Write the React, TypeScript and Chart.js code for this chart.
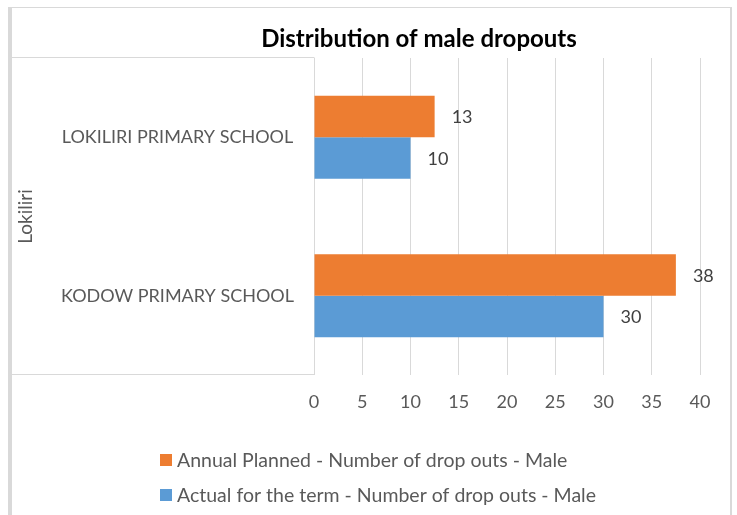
import React, { useEffect, useRef } from "react";
import { Chart, registerables } from "chart.js";

Chart.register(...registerables);

const categories = ["LOKILIRI PRIMARY SCHOOL", "KODOW PRIMARY SCHOOL"];
const groupLabel = "Lokiliri";
const chartTitle = "Distribution of male dropouts";
const seriesNames = [
  "Annual Planned - Number of drop outs - Male",
  "Actual for the term - Number of drop outs - Male",
];
const plannedValues = [12.5, 37.5];
const actualValues = [10, 30];
const seriesColors = ["#ED7D31", "#5B9BD5"];
const xTicks = [0, 5, 10, 15, 20, 25, 30, 35, 40];

const FONT = "Lato, 'Open Sans', sans-serif";
const GRID = "#d9d9d9";
const TEXT = "#595959";

const decorPlugin = {
  id: "decor",
  beforeDraw(chart: any) {
    const ctx = chart.ctx;
    ctx.save();
    ctx.fillStyle = "#ffffff";
    ctx.fillRect(0, 0, chart.width, chart.height);
    ctx.fillStyle = GRID;
    ctx.fillRect(8, 7, 724, 1);
    ctx.fillRect(8, 7, 4, chart.height - 7);
    ctx.fillRect(730, 7, 2, chart.height - 7);
    ctx.restore();
  },
  afterDatasetsDraw(chart: any) {
    const ctx = chart.ctx;
    ctx.save();
    ctx.fillStyle = "#404040";
    ctx.font = `18px ${FONT}`;
    ctx.textAlign = "left";
    ctx.textBaseline = "middle";
    chart.data.datasets.forEach((ds: any, i: number) => {
      const meta = chart.getDatasetMeta(i);
      meta.data.forEach((el: any, j: number) => {
        const v = ds.data[j];
        ctx.fillText(String(Math.round(v)), el.x + 17, el.y + 1);
      });
    });
    ctx.restore();
  },
  afterDraw(chart: any) {
    const ctx = chart.ctx;
    const area = chart.chartArea;
    ctx.save();
    // category box
    ctx.strokeStyle = GRID;
    ctx.lineWidth = 1;
    ctx.beginPath();
    ctx.moveTo(12, Math.round(area.top) - 0.5);
    ctx.lineTo(Math.round(area.left) + 0.5, Math.round(area.top) - 0.5);
    ctx.moveTo(12, Math.round(area.bottom) - 0.5);
    ctx.lineTo(Math.round(area.left) + 0.5, Math.round(area.bottom) - 0.5);
    ctx.stroke();

    // title
    ctx.fillStyle = "#000000";
    ctx.font = `bold 24px ${FONT}`;
    ctx.textAlign = "center";
    ctx.textBaseline = "alphabetic";
    ctx.fillText(chartTitle, 419, 47);

    // group label
    ctx.save();
    ctx.translate(26, (area.top + area.bottom) / 2);
    ctx.rotate(-Math.PI / 2);
    ctx.fillStyle = TEXT;
    ctx.font = `19px ${FONT}`;
    ctx.textAlign = "center";
    ctx.textBaseline = "middle";
    ctx.fillText(groupLabel, 0, 0);
    ctx.restore();

    // legend
    ctx.font = `19.5px ${FONT}`;
    ctx.textAlign = "left";
    ctx.textBaseline = "middle";
    const rows = [460, 495];
    chart.data.datasets.forEach((ds: any, i: number) => {
      const y = rows[i];
      ctx.fillStyle = ds.backgroundColor;
      ctx.fillRect(160, y - 6, 12, 12);
      ctx.fillStyle = TEXT;
      ctx.fillText(ds.label, 177, y + 1);
    });
    ctx.restore();
  },
};

export default function App() {
  const ref = useRef<HTMLCanvasElement | null>(null);
  useEffect(() => {
    let chart: Chart | null = null;
    let cancelled = false;
    const make = () => {
      if (cancelled || !ref.current) return;
      chart = new Chart(ref.current, {
        type: "bar",
        data: {
          labels: categories,
          datasets: [
            {
              label: seriesNames[0],
              data: plannedValues,
              backgroundColor: seriesColors[0],
              borderWidth: 0,
            },
            {
              label: seriesNames[1],
              data: actualValues,
              backgroundColor: seriesColors[1],
              borderWidth: 0,
            },
          ],
        },
        options: {
          indexAxis: "y",
          animation: false,
          responsive: true,
          maintainAspectRatio: false,
          layout: { padding: { left: 11, top: 58, right: 37, bottom: 90 } },
          datasets: { bar: { categoryPercentage: 0.524, barPercentage: 1 } },
          plugins: {
            legend: { display: false },
            title: { display: false },
            tooltip: { enabled: false },
          },
          scales: {
            x: {
              type: "linear",
              min: 0,
              max: 40,
              afterBuildTicks: (scale: any) => {
                scale.ticks = xTicks.map((v) => ({ value: v }));
              },
              afterFit: (scale: any) => {
                scale.height = 50;
              },
              ticks: {
                color: TEXT,
                font: { family: FONT, size: 18 },
                padding: 16,
              },
              grid: { color: GRID, lineWidth: 1, drawTicks: false },
              border: { display: false },
            },
            y: {
              type: "category",
              afterFit: (scale: any) => {
                scale.width = 303;
              },
              ticks: {
                color: TEXT,
                font: { family: FONT, size: 18 },
                crossAlign: "center",
                padding: 20,
              },
              grid: { display: false, drawTicks: false },
              border: { display: false },
            },
          },
        },
        plugins: [decorPlugin],
      } as any);
    };
    const fontsApi: any = (document as any).fonts;
    if (fontsApi && fontsApi.load) {
      Promise.all([
        fontsApi.load(`18px Lato`),
        fontsApi.load(`bold 24px Lato`),
      ])
        .catch(() => {})
        .then(make);
    } else {
      make();
    }
    return () => {
      cancelled = true;
      if (chart) chart.destroy();
    };
  }, []);
  return (
    <div
      style={{
        position: "absolute",
        left: 0,
        top: 0,
        width: 737,
        height: 515,
        background: "#ffffff",
      }}
    >
      <canvas ref={ref} />
    </div>
  );
}
